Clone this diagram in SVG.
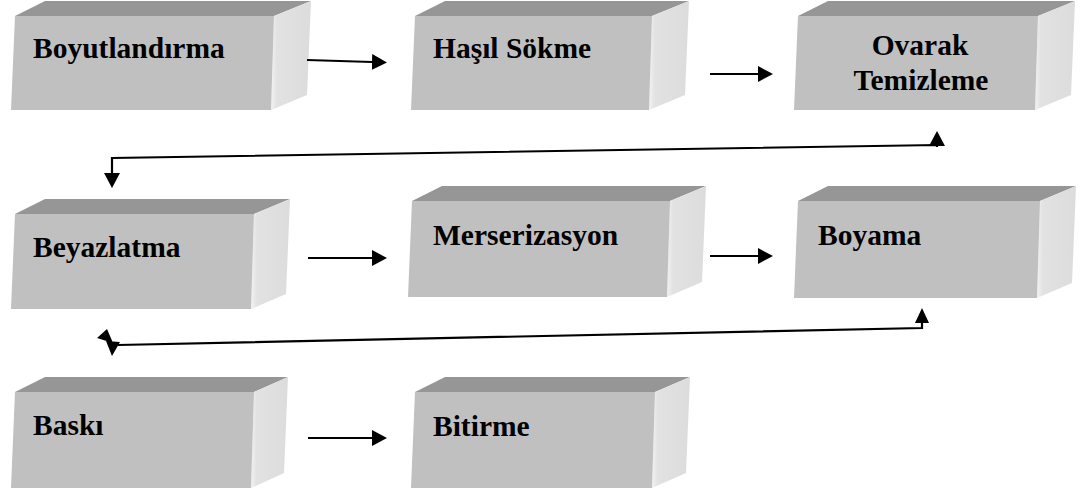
<svg xmlns="http://www.w3.org/2000/svg" width="1085" height="496" viewBox="0 0 1085 496">
<defs>
<linearGradient id="side" x1="0" y1="0" x2="1" y2="0">
<stop offset="0" stop-color="#f2f2f2"/>
<stop offset="0.15" stop-color="#e2e2e2"/>
<stop offset="1" stop-color="#dcdcdc"/>
</linearGradient>
<marker id="arr" markerUnits="userSpaceOnUse" markerWidth="16" markerHeight="16" refX="0" refY="8" orient="auto-start-reverse" viewBox="0 0 16 16">
<path d="M0,0 L15,8 L0,16 Z" fill="#000"/>
</marker>
<style>
.front{fill:#c0c0c0}
.top{fill:#969696}
.side{fill:url(#side)}
.lbl{font-family:"Liberation Serif","Times New Roman",serif;font-weight:bold;font-size:29.5px;fill:#000}
.con{fill:none;stroke:#000;stroke-width:2.2}
</style>
</defs>
<rect width="1085" height="496" fill="#fff"/>

<g id="n1">
<polygon class="top" points="15,16 45,1 311,1 274,16"/>
<polygon class="side" points="274,16 311,1 307,95 271,110"/>
<polygon class="front" points="15,16 274,16 271,110 11,110"/>
<text class="lbl" x="33" y="58">Boyutlandırma</text>
</g>
<g id="n2">
<polygon class="top" points="415,16 445,1 689,1 652,16"/>
<polygon class="side" points="652,16 689,1 685,95 649,110"/>
<polygon class="front" points="415,16 652,16 649,110 411,110"/>
<text class="lbl" x="433" y="58">Haşıl Sökme</text>
</g>
<g id="n3">
<polygon class="top" points="798,16 828,1 1075,1 1038,16"/>
<polygon class="side" points="1038,16 1075,1 1071,95 1035,110"/>
<polygon class="front" points="798,16 1038,16 1035,110 794,110"/>
<text class="lbl" x="920" y="55" text-anchor="middle">Ovarak</text>
<text class="lbl" x="921" y="90" text-anchor="middle">Temizleme</text>
</g>
<g id="n4">
<polygon class="top" points="15,214 45,199 290,199 254,214"/>
<polygon class="side" points="254,214 290,199 286,294 251,309"/>
<polygon class="front" points="15,214 254,214 251,309 11,309"/>
<text class="lbl" x="33" y="257">Beyazlatma</text>
</g>
<g id="n5">
<polygon class="top" points="412,201 442,186 706,186 670,201"/>
<polygon class="side" points="670,201 706,186 702,282 667,297"/>
<polygon class="front" points="412,201 670,201 667,297 408,297"/>
<text class="lbl" x="433" y="245">Merserizasyon</text>
</g>
<g id="n6">
<polygon class="top" points="798,201 828,186 1076,186 1040,201"/>
<polygon class="side" points="1040,201 1076,186 1072,283 1037,298"/>
<polygon class="front" points="798,201 1040,201 1037,298 794,298"/>
<text class="lbl" x="818" y="245">Boyama</text>
</g>
<g id="n7">
<polygon class="top" points="15,392 45,377 288,377 254,392"/>
<polygon class="side" points="254,392 288,377 284,473 251,488"/>
<polygon class="front" points="15,392 254,392 251,488 11,488"/>
<text class="lbl" x="33" y="435">Baskı</text>
</g>
<g id="n8">
<polygon class="top" points="415,392 445,377 690,377 655,392"/>
<polygon class="side" points="655,392 690,377 686,473 652,488"/>
<polygon class="front" points="415,392 655,392 652,488 411,488"/>
<text class="lbl" x="433" y="436">Bitirme</text>
</g>

<g id="connectors">
<path class="con" d="M307,60 L372,62" marker-end="url(#arr)"/>
<path class="con" d="M710,74 L758,74" marker-end="url(#arr)"/>
<path class="con" d="M112,173 L112,158 L937,145 L937,146.9" marker-start="url(#arr)"/>
<path class="con" d="M937,146 L937,145.9" marker-end="url(#arr)"/>
<path class="con" d="M308,258 L372,258" marker-end="url(#arr)"/>
<path class="con" d="M710,256 L758,256" marker-end="url(#arr)"/>
<path class="con" d="M922,323 L922,328 L118,345"/>
<path d="M922,308 L929,323 L915,323 Z" fill="#000"/>
<path d="M107,329 L113,343 L97,338 Z M106,341 L120,342 L112,356 Z" fill="#000"/>
<path class="con" d="M308,438 L372,438" marker-end="url(#arr)"/>
</g>
</svg>
